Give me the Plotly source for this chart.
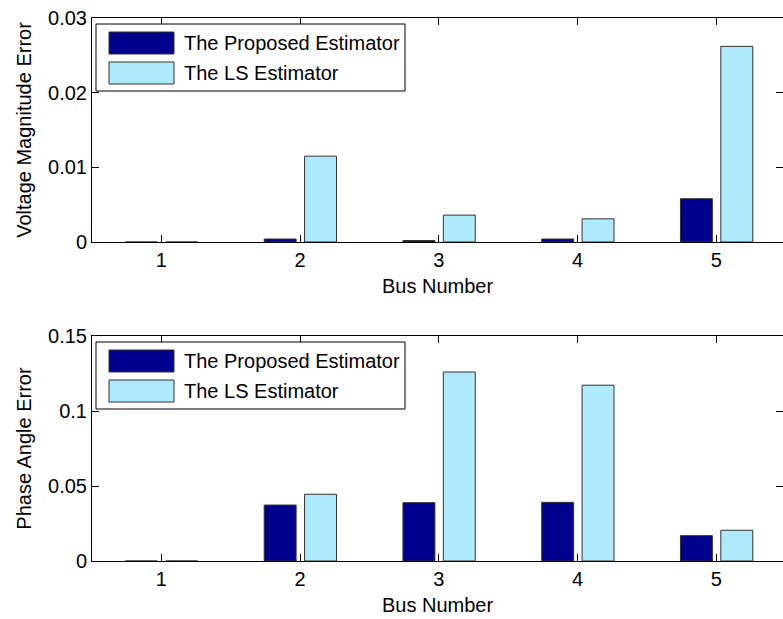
import plotly.graph_objects as go

# Estimation errors per bus
buses = [1, 2, 3, 4, 5]
bus_labels = ["1", "2", "3", "4", "5"]
vm_proposed = [0.0, 0.0004, 0.0002, 0.0004, 0.0058]
vm_ls = [0.0, 0.0115, 0.0036, 0.0031, 0.0262]
pa_proposed = [0.0, 0.0373, 0.0389, 0.0391, 0.0169]
pa_ls = [0.0, 0.0445, 0.1260, 0.1172, 0.0205]

series_names = ["The Proposed Estimator", "The LS Estimator"]
vm_ticks = [0, 0.01, 0.02, 0.03]
vm_ticktext = ["0", "0.01", "0.02", "0.03"]
pa_ticks = [0, 0.05, 0.1, 0.15]
pa_ticktext = ["0", "0.05", "0.1", "0.15"]

# ---- page geometry (pixels) ----
W, H = 783, 619
ML, MR, MT, MB = 92, 0, 18, 58
PW, PH = W - ML - MR, H - MT - MB
TOP_AX = (18, 242)     # top/bottom pixel rows of upper axes
BOT_AX = (336, 561)    # top/bottom pixel rows of lower axes

DARK = "#00008F"
LIGHT = "#AEEAFB"
EDGE = "#333333"
FONT = "Liberation Sans, Arial, Helvetica, sans-serif"
FS = 20


def px_x(px):
    return (px - ML) / PW


def px_y(py):
    return (H - MB - py) / PH


def ydomain(rows):
    return [px_y(rows[1]), px_y(rows[0])]


fig = go.Figure()

bar_w = 0.23
for vals, color, off, ya in [
    (vm_proposed, DARK, -0.259, "y"),
    (vm_ls, LIGHT, 0.032, "y"),
    (pa_proposed, DARK, -0.259, "y2"),
    (pa_ls, LIGHT, 0.032, "y2"),
]:
    fig.add_trace(go.Bar(
        x=buses, y=vals, width=bar_w, offset=off,
        marker=dict(color=color, line=dict(color=EDGE, width=1)),
        xaxis="x" if ya == "y" else "x2", yaxis=ya,
        showlegend=False, hoverinfo="skip",
    ))

axis_common = dict(
    showline=True, linecolor="black", linewidth=1, mirror="ticks",
    ticks="inside", ticklen=7, tickcolor="black", tickwidth=1,
    showgrid=False, zeroline=False,
    tickfont=dict(family=FONT, size=FS, color="black"),
)

xcommon = dict(axis_common, range=[0.5, 5.48], tickvals=buses,
               ticktext=bus_labels,
               title=dict(text="Bus Number", font=dict(family=FONT, size=FS, color="black"),
                          standoff=8))

fig.update_layout(
    width=W, height=H, autosize=False,
    margin=dict(l=ML, r=MR, t=MT, b=MB, pad=0),
    paper_bgcolor="white", plot_bgcolor="white",
    barmode="overlay",
    font=dict(family=FONT, size=FS, color="black"),
    xaxis=dict(xcommon, domain=[0, 1], anchor="y"),
    yaxis=dict(axis_common, domain=ydomain(TOP_AX), anchor="x",
               range=[0, 0.03], tickvals=vm_ticks, ticktext=vm_ticktext,
               title=dict(text="Voltage Magnitude Error",
                          font=dict(family=FONT, size=FS, color="black"), standoff=11)),
    xaxis2=dict(xcommon, domain=[0, 1], anchor="y2"),
    yaxis2=dict(axis_common, domain=ydomain(BOT_AX), anchor="x2",
                range=[0, 0.15], tickvals=pa_ticks, ticktext=pa_ticktext,
                title=dict(text="Phase Angle Error",
                           font=dict(family=FONT, size=FS, color="black"), standoff=11)),
)

# ---- legends drawn inside each axes (large swatches) ----
shapes = []
annotations = []
for ax_top in (TOP_AX[0], BOT_AX[0]):
    shapes.append(dict(type="rect", xref="paper", yref="paper",
                       x0=px_x(96), x1=px_x(405), y0=px_y(ax_top + 73), y1=px_y(ax_top + 6),
                       line=dict(color="black", width=1), fillcolor="white", layer="above"))
    for i, (name, color) in enumerate(zip(series_names, [DARK, LIGHT])):
        r0 = ax_top + 14 + 30 * i
        shapes.append(dict(type="rect", xref="paper", yref="paper",
                           x0=px_x(109), x1=px_x(174), y0=px_y(r0 + 22), y1=px_y(r0),
                           line=dict(color=EDGE, width=1), fillcolor=color, layer="above"))
        annotations.append(dict(xref="paper", yref="paper", x=px_x(182), y=px_y(r0 + 11),
                                text=name, showarrow=False, xanchor="left", yanchor="middle",
                                font=dict(family=FONT, size=FS, color="black")))

fig.update_layout(shapes=shapes, annotations=annotations)

fig.write_html("out.html")
